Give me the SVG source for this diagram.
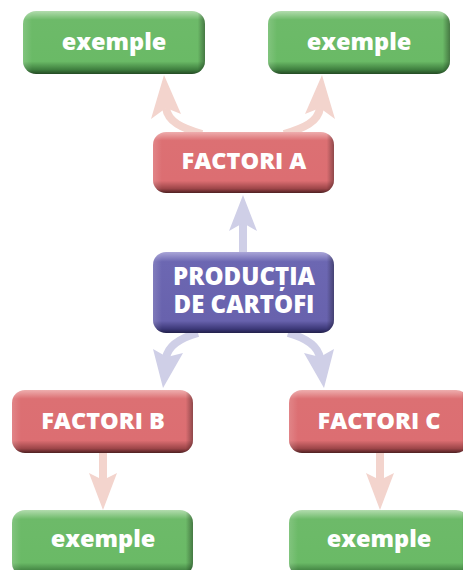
<svg xmlns="http://www.w3.org/2000/svg" width="463" height="570" viewBox="0 0 463 570">
<defs>
<linearGradient id="gG" x1="0" y1="0" x2="0" y2="1">
<stop offset="0" stop-color="#b2dcae"/><stop offset="0.14" stop-color="#6dba69"/><stop offset="0.8" stop-color="#6aba66"/><stop offset="0.93" stop-color="#3f7f3f"/><stop offset="1" stop-color="#244a24"/>
</linearGradient>
<linearGradient id="gR" x1="0" y1="0" x2="0" y2="1">
<stop offset="0" stop-color="#eeaeae"/><stop offset="0.14" stop-color="#dc7073"/><stop offset="0.8" stop-color="#dc6e72"/><stop offset="0.93" stop-color="#9c4548"/><stop offset="1" stop-color="#4e2022"/>
</linearGradient>
<linearGradient id="gP" x1="0" y1="0" x2="0" y2="1">
<stop offset="0" stop-color="#aaa6d8"/><stop offset="0.12" stop-color="#6c67b2"/><stop offset="0.85" stop-color="#6862ad"/><stop offset="0.95" stop-color="#3c3878"/><stop offset="1" stop-color="#22204a"/>
</linearGradient>
<linearGradient id="side" x1="0" y1="0" x2="1" y2="0">
<stop offset="0" stop-color="#fff" stop-opacity="0.15"/><stop offset="0.05" stop-color="#fff" stop-opacity="0"/><stop offset="0.96" stop-color="#000" stop-opacity="0"/><stop offset="1" stop-color="#000" stop-opacity="0.35"/>
</linearGradient>
</defs>
<style>
.t{font-family:"Open Sans","Noto Sans","DejaVu Sans",sans-serif;font-weight:800;fill:#fff;text-anchor:middle;}
.s{font-size:23.5px;}
.pk{fill:#f3d4cd;}
.pks{fill:none;stroke:#f3d4cd;stroke-width:8;}
.lv{fill:#cfcfe7;}
.lvs{fill:none;stroke:#cfcfe7;stroke-width:8;}
</style>
<g id="connectors">
<path class="pks" d="M202 134 C182 128 168 122 166 108"/>
<polygon class="pk" points="164,75 151,119 166,108 181,114"/>
<path class="pks" d="M284 134 C304 128 318 122 320 108"/>
<polygon class="pk" points="322,75 335,119 320,108 305,114"/>
<path class="lvs" d="M243 252 L243 222"/>
<polygon class="lv" points="243,195 229,231 243,223 257,231"/>
<path class="lvs" d="M198 333 C180 338 168 346 166 358"/>
<polygon class="lv" points="163,388 153,349 167,357 183,353"/>
<path class="lvs" d="M288 333 C306 338 318 346 320 358"/>
<polygon class="lv" points="324,388 334,349 320,357 304,353"/>
<path class="pks" d="M103 453 L103 480"/>
<polygon class="pk" points="103,510 89,473 103,480 117,473"/>
<path class="pks" d="M380 453 L380 480"/>
<polygon class="pk" points="380,510 366,473 380,480 394,473"/>
</g>
<g id="ex1"><rect x="23" y="11" width="182" height="63" rx="13" fill="url(#gG)"/><rect x="23" y="11" width="182" height="63" rx="13" fill="url(#side)"/><text class="t s" x="114" y="50">exemple</text></g>
<g id="ex2"><rect x="268" y="11" width="182" height="63" rx="13" fill="url(#gG)"/><rect x="268" y="11" width="182" height="63" rx="13" fill="url(#side)"/><text class="t s" x="359" y="50">exemple</text></g>
<g id="factorA"><rect x="153" y="132" width="181" height="61" rx="13" fill="url(#gR)"/><rect x="153" y="132" width="181" height="61" rx="13" fill="url(#side)"/><text class="t s" x="244" y="169">FACTORI A</text></g>
<g id="productia"><rect x="153" y="252" width="181" height="81" rx="13" fill="url(#gP)"/><rect x="153" y="252" width="181" height="81" rx="13" fill="url(#side)"/><text class="t" style="font-size:24px" x="244" y="285">PRODUCȚIA</text><text class="t" style="font-size:24px" x="244" y="313">DE CARTOFI</text></g>
<g id="factorB"><rect x="12" y="390" width="181" height="63" rx="13" fill="url(#gR)"/><rect x="12" y="390" width="181" height="63" rx="13" fill="url(#side)"/><text class="t s" x="103" y="429">FACTORI B</text></g>
<g id="factorC"><rect x="289" y="390" width="180" height="63" rx="13" fill="url(#gR)"/><rect x="289" y="390" width="180" height="63" rx="13" fill="url(#side)"/><text class="t s" x="379" y="429">FACTORI C</text></g>
<g id="ex3"><rect x="12" y="510" width="181" height="66" rx="13" fill="url(#gG)"/><rect x="12" y="510" width="181" height="66" rx="13" fill="url(#side)"/><text class="t s" x="103" y="547">exemple</text></g>
<g id="ex4"><rect x="289" y="510" width="180" height="66" rx="13" fill="url(#gG)"/><rect x="289" y="510" width="180" height="66" rx="13" fill="url(#side)"/><text class="t s" x="379" y="547">exemple</text></g>
</svg>
